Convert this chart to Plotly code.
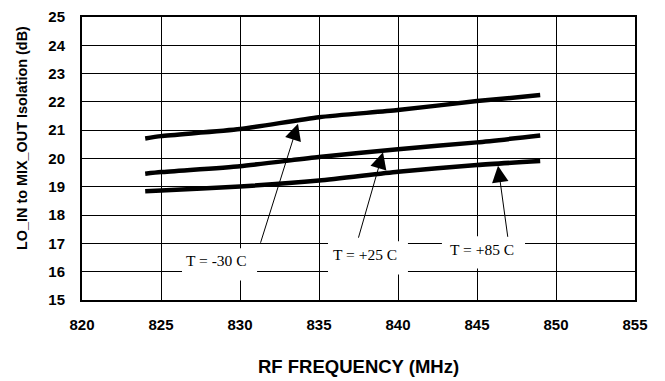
import plotly.graph_objects as go

freq = [824, 825, 830, 835, 840, 845, 849]
iso_m30 = [20.71, 20.79, 21.04, 21.46, 21.71, 22.03, 22.24]
iso_p25 = [19.46, 19.52, 19.73, 20.05, 20.33, 20.57, 20.81]
iso_p85 = [18.84, 18.87, 19.01, 19.22, 19.53, 19.77, 19.91]

labels = ["T = -30 C", "T = +25 C", "T = +85 C"]
label_x = [828.54, 837.91, 845.32]
label_y = [16.41, 16.60, 16.77]
box_x0 = [826.33, 835.57, 842.78]
box_x1 = [831.08, 840.63, 848.04]
box_y0 = [15.69, 15.90, 16.11]
box_y1 = [16.83, 17.08, 17.25]
arrow_tail_x = [831.27, 837.47, 846.96]
arrow_tail_y = [16.97, 17.15, 17.18]
arrow_tip_x = [833.67, 839.05, 846.33]
arrow_tip_y = [21.23, 20.22, 19.74]

x_ticks = [820, 825, 830, 835, 840, 845, 850, 855]
y_ticks = list(range(15, 26))

SANS = "Liberation Sans, Arial, sans-serif"
SERIF = "Liberation Serif, Times New Roman, serif"

fig = go.Figure()
for ys in (iso_m30, iso_p25, iso_p85):
    fig.add_trace(go.Scatter(x=freq, y=ys, mode="lines",
                             line=dict(color="black", width=4.5, shape="spline", smoothing=0.6),
                             showlegend=False, hoverinfo="skip"))

shapes = []
annotations = []
for i in range(3):
    shapes.append(dict(type="rect", xref="x", yref="y",
                       x0=box_x0[i], x1=box_x1[i], y0=box_y0[i], y1=box_y1[i],
                       fillcolor="white", line=dict(width=0), layer="above"))
    annotations.append(dict(x=label_x[i], y=label_y[i], xref="x", yref="y",
                            text=labels[i], showarrow=False,
                            font=dict(family=SERIF, size=15.5, color="black")))
    annotations.append(dict(x=arrow_tip_x[i], y=arrow_tip_y[i], xref="x", yref="y",
                            ax=arrow_tail_x[i], ay=arrow_tail_y[i], axref="x", ayref="y",
                            text="", showarrow=True, arrowhead=2, arrowsize=3.3,
                            arrowwidth=1, arrowcolor="black", standoff=0, startstandoff=0))

# page offset (body margin) of the rendered page
OFF = 8
annotations.append(dict(x=22 - OFF, y=138 - OFF, text="<b>LO_IN to MIX_OUT Isolation (dB)</b>",
                        showarrow=False, textangle=-90,
                        font=dict(family=SANS, size=14.4, color="black")))
annotations.append(dict(x=358 - OFF, y=366 - OFF, text="<b>RF FREQUENCY (MHz)</b>",
                        showarrow=False, font=dict(family=SANS, size=18.5, color="black")))

W, H = 665, 381
L, T = 82 - OFF, 17 - OFF
R = W - (635 - OFF)
B = H - (300 - OFF)
pw, ph = W - L - R, H - T - B
for a in annotations[-2:]:
    a["xref"] = "paper"
    a["yref"] = "paper"
    a["x"] = (a["x"] - L) / pw
    a["y"] = 1 - (a["y"] - T) / ph
    a["xanchor"] = "center"
    a["yanchor"] = "middle"

fig.update_layout(
    width=W, height=H,
    margin=dict(l=L, r=R, t=T, b=B, pad=0, autoexpand=False),
    plot_bgcolor="white", paper_bgcolor="white",
    shapes=shapes, annotations=annotations,
    xaxis=dict(range=[820, 855], tickvals=x_ticks, ticktext=[str(v) for v in x_ticks],
               showgrid=True, gridcolor="black", gridwidth=1,
               showline=True, linecolor="black", linewidth=2, mirror=True,
               ticks="", zeroline=False, ticklabelstandoff=10, automargin=False,
               ticklabeloverflow="allow",
               tickfont=dict(family=SANS, size=15, color="black", weight="bold")),
    yaxis=dict(range=[15, 25], tickvals=y_ticks, ticktext=[str(v) for v in y_ticks],
               showgrid=True, gridcolor="black", gridwidth=1,
               showline=True, linecolor="black", linewidth=2, mirror=True,
               ticks="", zeroline=False, ticklabelstandoff=12, automargin=False,
               ticklabeloverflow="allow",
               tickfont=dict(family=SANS, size=15, color="black", weight="bold")),
)

fig.write_html("out.html")
